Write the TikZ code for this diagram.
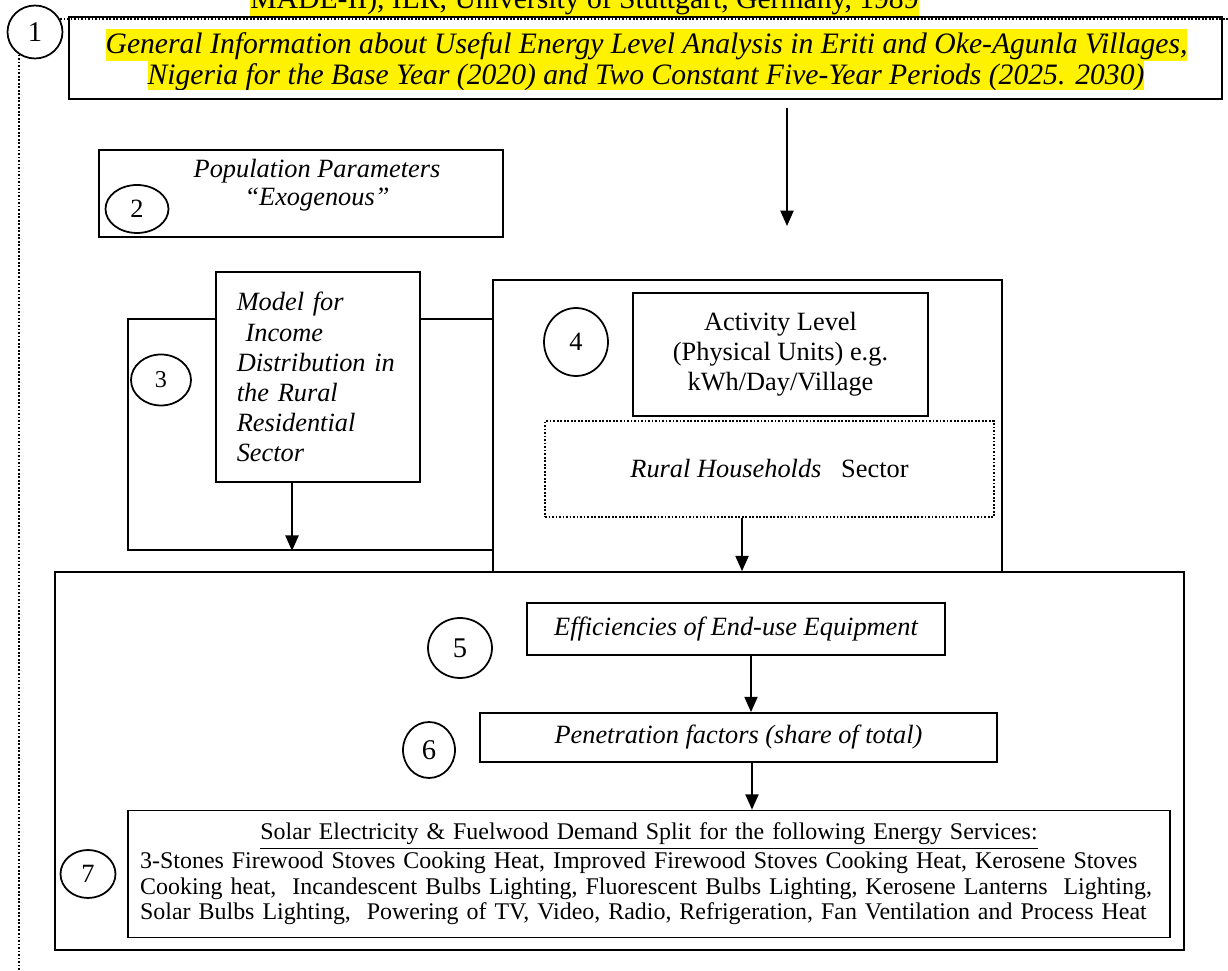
\documentclass[tikz,border=0pt]{standalone}
\usepackage{fontspec}
\setmainfont{Liberation Serif}
\usepackage{tikz}
\usetikzlibrary{shapes.geometric,arrows.meta}

\begin{document}
\begin{tikzpicture}[x=0.016cm,y=-0.016cm,
        frame/.style={draw,line width=0.8pt,inner sep=0pt},
        num/.style={draw,ellipse,line width=0.8pt,inner sep=0pt,font=\fontsize{12}{14}\selectfont},
        hl/.style={fill=yellow,inner xsep=0pt,inner ysep=0pt,text height=11.5pt,text depth=3.3pt,anchor=base,font=\fontsize{13.5}{15}\selectfont},
        dotline/.style={line width=0.8pt,dash pattern=on 0.8pt off 0.8pt},
        arr/.style={line width=0.8pt,-{Triangle[length=7pt,width=6pt]}}]
    \useasboundingbox (0,0) rectangle (1228,971);
    \clip (0,0) rectangle (1228,971);

    \coordinate (dottop) at (1228,19);
    \coordinate (dotbot) at (20,971);
    \coordinate (drop) at (787,226);

    \node[hl] (source) at (584.5,9) {MADE-II), ILR, University of Stuttgart, Germany, 1989};
    \node[frame,minimum width=18.448cm,minimum height=1.312cm] (info) at (645.5,58) {};
    \begin{scope}
        \clip (69,17) rectangle (1222,90);
        \node[hl,font=\fontsize{13.5}{15}\selectfont\itshape] (info1) at (646.5,54) {General Information about Useful Energy Level Analysis in Eriti and Oke-Agunla Villages,};
        \node[hl,font=\fontsize{13.5}{15}\selectfont\itshape] (info2) at (646,85) {Nigeria for the Base Year (2020) and Two Constant Five-Year Periods (2025. 2030)};
    \end{scope}
    \node[num,minimum width=0.88cm,minimum height=0.848cm,font=\fontsize{13}{15}\selectfont] (c1) at (35,32) {1};

    \node[frame,minimum width=6.464cm,minimum height=1.392cm] (popbox) at (301,193.5) {};
    \node[align=center,font=\fontsize{12}{12.7}\selectfont\itshape] (poptext) at (317,185) {Population Parameters\\“Exogenous”};
    \node[num,minimum width=1.008cm,minimum height=0.768cm] (c2) at (137,209) {2};

    \node[frame,minimum width=5.84cm,minimum height=3.696cm] (income) at (310.5,434.5) {};
    \node[frame,fill=white,minimum width=3.264cm,minimum height=3.36cm,text width=2.6cm,inner xsep=0.332cm,align=left,
          font=\fontsize{12}{13.7}\selectfont\itshape] (model) at (318,377)
          {Model for\\\ Income\\Distribution in\\the Rural\\Residential\\Sector};
    \node[num,minimum width=0.96cm,minimum height=0.816cm,font=\fontsize{11}{12}\selectfont] (c3) at (161,380) {3};

    \node[frame,minimum width=8.144cm,minimum height=4.672cm] (sector) at (747.5,426) {};
    \node[frame,minimum width=4.72cm,minimum height=1.968cm,align=center,font=\fontsize{12}{13.7}\selectfont] (activity) at (780.5,354.5)
          {Activity Level\\(Physical Units) e.g.\\kWh/Day/Village};
    \node[draw,dotline,minimum width=7.184cm,minimum height=1.536cm,inner sep=0pt,font=\fontsize{12}{14}\selectfont] (rural) at (769.5,469)
          {\raisebox{-0.35em}{\textit{Rural Households}\ \ \ Sector}};
    \node[num,minimum width=1.024cm,minimum height=1.088cm] (c4) at (576,342) {4};

    \node[frame,minimum width=18.064cm,minimum height=6.048cm] (base) at (619.5,761) {};
    \node[frame,minimum width=6.688cm,minimum height=0.832cm,font=\fontsize{12}{14}\selectfont\itshape] (eff) at (736,629) {Efficiencies of End-use Equipment};
    \node[num,minimum width=1.024cm,minimum height=0.96cm,font=\fontsize{13}{15}\selectfont] (c5) at (460,648) {5};
    \node[frame,minimum width=8.272cm,minimum height=0.784cm,font=\fontsize{12}{14}\selectfont\itshape] (pen) at (738.5,737.5) {Penetration factors (share of total)};
    \node[num,minimum width=0.832cm,minimum height=0.896cm,font=\fontsize{13}{15}\selectfont] (c6) at (429,750) {6};
    \node[frame,minimum width=16.672cm,minimum height=2.032cm,text width=16.288cm,inner xsep=0.192cm,align=left,
          font=\fontsize{10.9}{11.8}\selectfont] (split) at (649,874)
          {\makebox[16.288cm][c]{\underline{Solar Electricity \& Fuelwood Demand Split for the following Energy Services:}}\\
           \mbox{3-Stones Firewood Stoves Cooking Heat, Improved Firewood Stoves Cooking Heat, Kerosene Stoves}\\
           \mbox{Cooking heat,\ \ Incandescent Bulbs Lighting, Fluorescent Bulbs Lighting, Kerosene Lanterns\ \ Lighting,}\\
           \mbox{Solar Bulbs Lighting,\ \ Powering of TV, Video, Radio, Refrigeration, Fan Ventilation and Process Heat}};
    \node[num,minimum width=0.88cm,minimum height=0.768cm] (c7) at (88,874) {7};

    % dotted frame from the first circle
    \draw[dotline] (c1.27) -- (c1.27 -| dottop);
    \draw[dotline] (c1.235) -- (c1.235 |- dotbot);

    \draw[arr,shorten <=0.128cm] (info.south -| drop) -- (drop);
    \draw[arr] ([xshift=-0.416cm]model.south) coordinate (m3) -- (m3 |- income.south);
    \draw[arr] ([xshift=-0.44cm]rural.south) coordinate (r4) -- (r4 |- base.north);
    \draw[arr] ([xshift=0.24cm]eff.south) coordinate (e5) -- (e5 |- pen.north);
    \draw[arr] ([xshift=0.216cm]pen.south) coordinate (p6) -- (p6 |- split.north);
\end{tikzpicture}
\end{document}
